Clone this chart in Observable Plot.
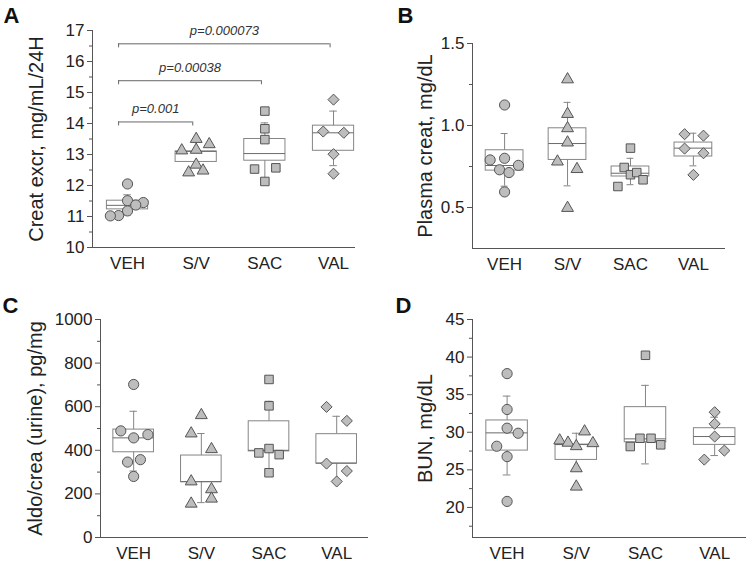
<!DOCTYPE html>
<html><head><meta charset="utf-8">
<script src="https://cdn.jsdelivr.net/npm/d3@7"></script>
<script src="https://cdn.jsdelivr.net/npm/@observablehq/plot@0.6"></script>
<style>
body{margin:0;background:#fff;}
#wrap{position:relative;width:750px;height:566px;font-family:"Liberation Sans",Arial,sans-serif;}
.panel{position:absolute;}
</style></head><body><div id="wrap"></div>
<script>
const categories = ["VEH", "S/V", "SAC", "VAL"];
const groupSymbols = ["circle", "triangle", "square", "diamond2"];

// Panel A: Creat excr (values per group), horizontal jitter (fraction of group step), box [q1, median, q3, whiskerLow, whiskerHigh]
const creatExcr = [
  [12.05, 11.51, 11.45, 11.37, 11.18, 11.03, 11.02],
  [13.50, 13.13, 13.15, 13.33, 12.67, 12.42, 12.48],
  [14.40, 13.83, 13.48, 12.53, 12.57, 12.13],
  [14.77, 13.74, 13.70, 13.01, 12.38]
];
const creatExcrJitter = [
  [0, 0, 0.23, 0.12, 0, -0.13, -0.25],
  [0, -0.21, 0, 0.19, 0, -0.11, 0.10],
  [0, 0, 0, -0.15, 0.16, 0],
  [0, -0.15, 0.15, 0, 0]
];
const creatExcrBox = [
  [11.23, 11.36, 11.51, 11.05, 11.70],
  [12.76, 13.10, 13.10, 12.60, 13.40],
  [12.80, 13.03, 13.50, 12.20, 14.02],
  [13.12, 13.70, 13.93, 12.64, 14.40]
];
const pTestTo = ["S/V", "SAC", "VAL"];
const pTestLevel = [14.05, 15.38, 16.57];
const pTestLabel = ["p=0.001", "p=0.00038", "p=0.000073"];

// Panel B: Plasma creat
const plasmaCreat = [
  [1.125, 0.79, 0.80, 0.757, 0.73, 0.713, 0.595],
  [1.281, 1.07, 0.983, 0.896, 0.78, 0.734, 0.497],
  [0.862, 0.744, 0.70, 0.713, 0.669, 0.628],
  [0.947, 0.938, 0.859, 0.831, 0.699]
];
const plasmaCreatJitter = [
  [0, -0.23, 0, 0.22, -0.08, 0.07, 0],
  [0, 0, 0, 0, -0.16, 0.15, 0],
  [0, -0.10, 0, 0.10, 0.20, -0.20],
  [-0.14, 0.16, -0.14, 0.16, 0]
];
const plasmaCreatBox = [
  [0.725, 0.756, 0.849, 0.630, 0.951],
  [0.790, 0.890, 0.983, 0.632, 1.141],
  [0.689, 0.709, 0.750, 0.639, 0.800],
  [0.811, 0.862, 0.896, 0.754, 0.953]
];

// Panel C: Aldo/crea (urine)
const aldoCrea = [
  [702, 489, 472, 457, 346, 357, 280],
  [561, 477, 405, 257, 221, 178, 155],
  [725, 604, 408, 388, 380, 297],
  [599, 535, 339, 305, 257]
];
const aldoCreaJitter = [
  [0, -0.19, 0.21, 0, -0.09, 0.10, 0],
  [0, -0.15, 0.15, -0.15, 0.15, 0.15, -0.15],
  [0, 0, 0, -0.15, 0.15, 0],
  [-0.15, 0.15, -0.15, 0.15, 0]
];
const aldoCreaBox = [
  [391, 457, 495, 305, 579],
  [254, 256, 376, 160, 477],
  [395, 400, 533, 300, 625],
  [339, 341, 474, 262, 556]
];

// Panel D: BUN
const bun = [
  [37.8, 33.03, 30.54, 29.87, 28.14, 26.76, 20.8],
  [28.9, 28.6, 28.14, 30.1, 28.54, 25.2, 22.76],
  [40.24, 29.2, 29.2, 28.1, 28.33],
  [32.67, 31.12, 29.43, 27.56, 26.36]
];
const bunJitter = [
  [0, 0, 0, 0.16, -0.15, 0, 0],
  [-0.24, -0.12, 0, 0.12, 0.24, 0, 0],
  [0, -0.08, 0.08, -0.22, 0.22],
  [0, 0, 0, 0.14, -0.15]
];
const bunBox = [
  [27.56, 29.92, 31.57, 24.32, 34.81],
  [26.32, 28.36, 28.36, 25.10, 29.87],
  [28.67, 29.12, 33.34, 25.79, 36.24],
  [28.32, 29.43, 30.54, 26.90, 32.00]
];

const FONT = '"Liberation Sans", Arial, Helvetica, sans-serif';
const symbolR = [5.1, 4.4, 4.8, 5.0];

function makePanel(o) {
  const pts = o.values.flatMap((vs, g) => vs.map((v, i) => ({g, x: g + o.jitter[g][i], y: v})));
  const bx = o.box.map((b, g) => ({g, q1: b[0], med: b[1], q3: b[2], lo: b[3], hi: b[4]}));
  const hw = 0.3, cap = 0.055;
  const boxStroke = "#858585";
  return Plot.plot({
    width: o.width, height: o.height,
    marginLeft: o.ml, marginRight: o.mr, marginTop: o.mt, marginBottom: o.mb,
    style: {fontFamily: FONT, fontSize: "17px", color: "#222", background: "transparent", overflow: "visible"},
    x: {domain: o.xDomain},
    y: {domain: o.yDomain},
    r: {type: "identity"},
    marks: [
      Plot.ruleX(bx, {x: "g", y1: "lo", y2: "hi", stroke: boxStroke}),
      Plot.ruleY(bx, {x1: d => d.g - cap, x2: d => d.g + cap, y: "lo", stroke: boxStroke}),
      Plot.ruleY(bx, {x1: d => d.g - cap, x2: d => d.g + cap, y: "hi", stroke: boxStroke}),
      Plot.rect(bx, {x1: d => d.g - hw, x2: d => d.g + hw, y1: "q1", y2: "q3", fill: "white", stroke: boxStroke}),
      Plot.ruleY(bx, {x1: d => d.g - hw, x2: d => d.g + hw, y: "med", stroke: "#6a6a6a"}),
      Plot.dot(pts, {x: "x", y: "y", symbol: d => groupSymbols[d.g], r: d => symbolR[d.g],
        fill: "#bdbdbd", stroke: "#555", strokeWidth: 1}),
      ...(o.extra || []),
      Plot.ruleX([o.xDomain[0]], {stroke: "#555"}),
      Plot.ruleY([o.yDomain[0]], {stroke: "#555"}),
      Plot.axisY({ticks: o.yMajor, tickSize: 5, tickPadding: 3, tickFormat: o.fmt, label: null, fontSize: 17, stroke: "#555", fill: "#222"}),
      Plot.axisY({ticks: o.yMinor, tickSize: 3, tickFormat: () => "", label: null, stroke: "#555"}),
      Plot.axisX({ticks: [0, 1, 2, 3], tickFormat: i => categories[i], tickSize: 0, tickPadding: 9, label: null, fontSize: 17, fill: "#222"}),
      Plot.text([o.yLabel], {frameAnchor: "left", rotate: -90, textAnchor: "middle", lineAnchor: "middle",
        dx: o.labelDx, fontSize: 20, fill: "#222"}),
      Plot.text([o.letter], {frameAnchor: "top-left", textAnchor: "start", lineAnchor: "bottom",
        dx: o.letterDx, dy: o.letterDy, fontSize: 22, fontWeight: "bold", fill: "#111"})
    ]
  });
}

const brackets = pTestTo.map((t, k) => ({x1: -0.13, x2: categories.indexOf(t) - 0.05, y: pTestLevel[k], label: pTestLabel[k]}));
const bracketMarks = [
  Plot.ruleY(brackets, {x1: "x1", x2: "x2", y: "y", stroke: "#666"}),
  Plot.ruleX(brackets, {x: "x1", y1: "y", y2: d => d.y - 0.13, stroke: "#666"}),
  Plot.ruleX(brackets, {x: "x2", y1: "y", y2: d => d.y - 0.13, stroke: "#666"}),
  Plot.text(brackets, {x: d => (d.x1 + d.x2) / 2, y: "y", text: "label", dy: -9, lineAnchor: "bottom",
    fontStyle: "italic", fontSize: 13, fill: "#333"})
];

const panels = [
  {left: 0, top: 0, opts: {
    values: creatExcr, jitter: creatExcrJitter, box: creatExcrBox,
    width: 375, height: 280, ml: 92, mr: 20, mt: 30, mb: 33,
    xDomain: [-0.51, 3.32], yDomain: [10, 17],
    yMajor: d3.range(10, 17.01, 1), yMinor: d3.range(10.5, 17, 1), fmt: d3.format("d"),
    yLabel: "Creat excr, mg/mL/24H", labelDx: -56, letter: "A", letterDx: -89, letterDy: -8,
    extra: bracketMarks}},
  {left: 375, top: 0, opts: {
    values: plasmaCreat, jitter: plasmaCreatJitter, box: plasmaCreatBox,
    width: 375, height: 280, ml: 97, mr: 25, mt: 43, mb: 32,
    xDomain: [-0.51, 3.51], yDomain: [0.25, 1.5],
    yMajor: [0.5, 1.0, 1.5], yMinor: [0.75, 1.25], fmt: d3.format(".1f"),
    yLabel: "Plasma creat, mg/dL", labelDx: -47, letter: "B", letterDx: -75, letterDy: -21}},
  {left: 0, top: 280, opts: {
    values: aldoCrea, jitter: aldoCreaJitter, box: aldoCreaBox,
    width: 375, height: 286, ml: 100, mr: 7, mt: 39, mb: 29,
    xDomain: [-0.49, 3.47], yDomain: [0, 1000],
    yMajor: d3.range(0, 1001, 200), yMinor: d3.range(100, 1000, 200), fmt: d3.format("d"),
    yLabel: "Aldo/crea (urine), pg/mg", labelDx: -65, letter: "C", letterDx: -98, letterDy: -7}},
  {left: 375, top: 280, opts: {
    values: bun, jitter: bunJitter, box: bunBox,
    width: 375, height: 286, ml: 97, mr: 4, mt: 39, mb: 29,
    xDomain: [-0.5, 3.46], yDomain: [16, 45],
    yMajor: d3.range(20, 45.01, 5), yMinor: d3.range(17.5, 45, 5), fmt: d3.format("d"),
    yLabel: "BUN, mg/dL", labelDx: -47, letter: "D", letterDx: -77, letterDy: -7}}
];

const wrap = document.getElementById("wrap");
for (const p of panels) {
  const div = document.createElement("div");
  div.className = "panel";
  div.style.left = p.left + "px";
  div.style.top = p.top + "px";
  div.appendChild(makePanel(p.opts));
  wrap.appendChild(div);
}
</script>
</body></html>
